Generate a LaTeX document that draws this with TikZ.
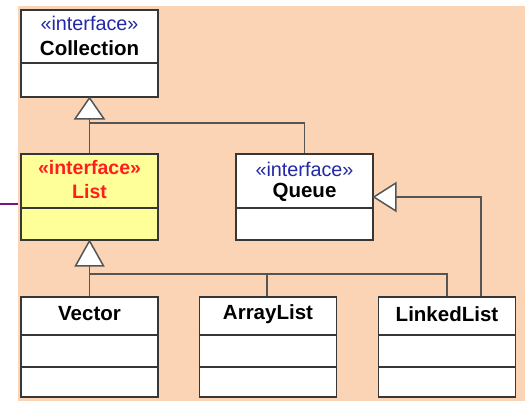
\documentclass[tikz,border=0pt]{standalone}
\usepackage{fontspec}
\setmainfont{Liberation Sans}
\usetikzlibrary{calc}
\definecolor{peach}{RGB}{250,212,180}
\definecolor{umlyellow}{RGB}{255,255,153}
\definecolor{boxc}{RGB}{55,55,55}
\definecolor{connc}{RGB}{85,85,85}
\definecolor{stereoblue}{RGB}{35,40,165}
\definecolor{umlred}{RGB}{255,30,30}
\definecolor{linkpurple}{RGB}{120,20,130}
\begin{document}
\begin{tikzpicture}[x=1pt,y=-1pt,
  umlbox/.style={draw=boxc, line width=1.8pt, fill=white, rectangle, inner sep=0pt, minimum width=137pt},
  divider/.style={draw=boxc, line width=1.8pt},
  conn/.style={draw=connc, line width=1.4pt},
  tri/.style={draw=connc, line width=1.5pt, fill=white, line join=miter},
  stereo/.style={inner sep=0pt, text=stereoblue, font=\fontsize{19.8}{23}\selectfont},
  clsname/.style={inner sep=0pt, text=black, font=\fontsize{20.5}{24}\selectfont\bfseries},
  redtext/.style={inner sep=0pt, text=umlred, font=\fontsize{19.5}{23}\selectfont\bfseries}
]
\useasboundingbox (0,0) rectangle (525,401);
\fill[peach] (18,6) rectangle (525,401);

% boxes
\node[umlbox, minimum height=87pt] (col) at (89.5,53.5) {};
\node[umlbox, minimum height=86pt, fill=umlyellow] (list) at (89.5,197) {};
\node[umlbox, minimum height=86pt] (queue) at (304.5,197) {};
\node[umlbox, minimum height=100pt] (vec) at (89.5,347) {};
\node[umlbox, minimum height=100pt] (arr) at (268,347) {};
\node[umlbox, minimum height=100pt] (lnk) at (447,347) {};

% dividers
\draw[divider] (col.west |- 0,63) -- (col.east |- 0,63);
\draw[divider] (list.west |- 0,208) -- (list.east |- 0,208);
\draw[divider] (queue.west |- 0,208) -- (queue.east |- 0,208);
\foreach \b in {vec,arr,lnk}{
  \draw[divider] (\b.west |- 0,335) -- (\b.east |- 0,335);
  \draw[divider] (\b.west |- 0,367) -- (\b.east |- 0,367);
}

% texts
\node[stereo] (colst) at (89.5,23.5) {«interface»};
\node[clsname] (colnm) at (89.5,48) {Collection};
\node[redtext] (listst) at (89.5,168) {«interface»};
\node[redtext] (listnm) at (89.5,192) {List};
\node[stereo] (queuest) at (304.5,169.5) {«interface»};
\node[clsname] (queuenm) at (304.5,192) {Queue};
\node[clsname] (vecnm) at (89.5,314) {Vector};
\node[clsname] (arrnm) at (268,314) {ArrayList};
\node[clsname] (lnknm) at (447,314) {LinkedList};

% coordinates for connectors
\coordinate (cbase) at ($(col.south)+(0,21)$);
\coordinate (cj) at ($(col.south)+(0,25)$);
\coordinate (lbase) at ($(list.south)+(0,25)$);
\coordinate (lj) at ($(list.south)+(0,33)$);
\coordinate (qbase) at ($(queue.east)+(22,0)$);
\coordinate (lq) at ($(lnk.north)+(34,0)$);
\coordinate (arrtop) at ($(arr.north)+(-1,0)$);
\coordinate (p0) at (0,204);
\coordinate (p1) at (18,204);

% connectors
\draw[conn] (cbase) -- (list.north);
\draw[conn] (cj) -| (queue.north);
\draw[conn] (lbase) -- (vec.north);
\draw[conn] (lj) -| (arrtop);
\draw[conn] (lj) -| (lnk.north);
\draw[conn] (qbase) -| (lq);
\draw[draw=linkpurple, line width=1.6pt] (p0) -- (p1);

% generalization triangles
\draw[tri] (col.south) -- ++(-14.5,21) -- ++(29,0) -- cycle;
\draw[tri] (list.south) -- ++(-14,25) -- ++(28,0) -- cycle;
\draw[tri] (queue.east) -- ++(22,-14) -- ++(0,28) -- cycle;
\end{tikzpicture}
\end{document}
